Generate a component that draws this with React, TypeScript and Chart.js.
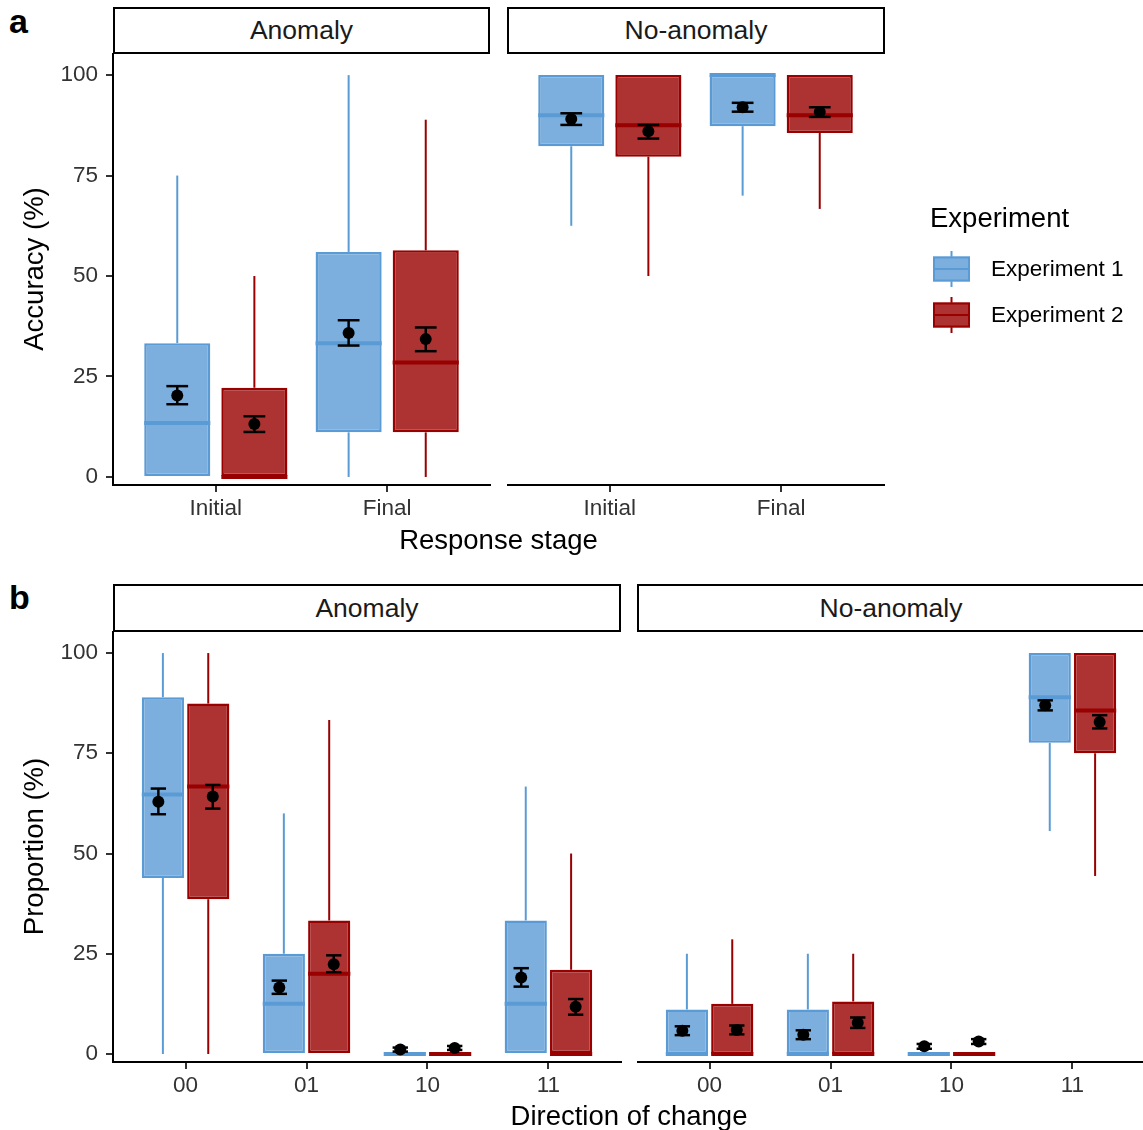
import React, { useEffect, useRef } from 'react';
import { Chart, registerables } from 'chart.js';

Chart.register(...registerables);

const FONT = "'Liberation Sans', Arial, Helvetica, sans-serif";

// ---------- data ----------
const stageLabels = ['Initial', 'Final'];
const changeLabels = ['00', '01', '10', '11'];
const facetNames = ['Anomaly', 'No-anomaly'];
const seriesNames = ['Experiment 1', 'Experiment 2'];
const yTickValues = [0, 25, 50, 75, 100];

// box rows: [whisker low, Q1, median, Q3, whisker high]
// mean rows: [mean, lower error, upper error]
const accAnomalyExp1Box = [[0, 0, 13.4, 33.3, 75], [0, 11.1, 33.3, 56, 100]];
const accAnomalyExp2Box = [[0, 0, 0, 22.2, 50], [0, 11.1, 28.5, 56.4, 88.9]];
const accAnomalyExp1Mean = [[20.3, 18.1, 22.6], [35.8, 32.7, 39.0]];
const accAnomalyExp2Mean = [[13.2, 11.2, 15.1], [34.3, 31.3, 37.2]];

const accNoAnomExp1Box = [[62.5, 82.3, 90, 100, 100], [70, 87.3, 100, 100, 100]];
const accNoAnomExp2Box = [[50, 79.7, 87.5, 100, 100], [66.7, 85.6, 90, 100, 100]];
const accNoAnomExp1Mean = [[89.1, 87.6, 90.5], [92.0, 90.9, 93.1]];
const accNoAnomExp2Mean = [[86.0, 84.2, 87.6], [90.8, 89.6, 92.0]];

const dirAnomalyExp1Box = [[0, 43.9, 64.7, 89, 100], [0, 0, 12.5, 25, 60], [0, 0, 0, 0, 0], [0, 0, 12.5, 33.3, 66.7]];
const dirAnomalyExp2Box = [[0, 38.6, 66.7, 87.4, 100], [0, 0, 20, 33.3, 83.3], [0, 0, 0, 0, 0], [0, 0, 0, 21.0, 50]];
const dirAnomalyExp1Mean = [[62.9, 59.8, 66.2], [16.6, 15.0, 18.3], [1.1, 0.6, 1.6], [19.1, 16.8, 21.4]];
const dirAnomalyExp2Mean = [[64.2, 61.2, 67.1], [22.4, 20.4, 24.6], [1.5, 1.0, 2.0], [11.8, 9.8, 13.7]];

const dirNoAnomExp1Box = [[0, 0, 0, 11.1, 25], [0, 0, 0, 11.1, 25], [0, 0, 0, 0, 0], [55.6, 77.6, 89.0, 100, 100]];
const dirNoAnomExp2Box = [[0, 0, 0, 12.5, 28.6], [0, 0, 0, 13.1, 25], [0, 0, 0, 0, 0], [44.4, 75, 85.7, 100, 100]];
const dirNoAnomExp1Mean = [[5.8, 4.7, 6.9], [4.8, 3.7, 5.9], [1.9, 1.3, 2.5], [87.0, 85.7, 88.2]];
const dirNoAnomExp2Mean = [[6.0, 4.9, 7.1], [7.8, 6.5, 9.1], [3.1, 2.5, 3.7], [82.8, 81.2, 84.5]];

// ---------- styles ----------
const FILLS = ['#7CAFDD', '#AD3333'];
const LINES = ['#5B9BD5', '#990000'];
const DODGE = [-0.225, 0.225];
const CAP_HALF = 0.0635;
const Y_MIN = -2;
const Y_MAX = 105.5;
const TICK_COLOR = '#333333';

function seg(ctx: CanvasRenderingContext2D, x1: number, y1: number, x2: number, y2: number) {
  ctx.beginPath();
  ctx.moveTo(x1, y1);
  ctx.lineTo(x2, y2);
  ctx.stroke();
}

const boxExtras = {
  id: 'boxExtras',
  afterDatasetsDraw(chart: any) {
    const ctx: CanvasRenderingContext2D = chart.ctx;
    const xs = chart.scales.x;
    const ys = chart.scales.y;
    const capHalf = Math.abs(xs.getPixelForValue(1 + CAP_HALF) - xs.getPixelForValue(1));
    ctx.save();
    ctx.lineCap = 'butt';
    chart.data.datasets.forEach((ds: any, di: number) => {
      const meta = chart.getDatasetMeta(di);
      meta.data.forEach((el: any, i: number) => {
        const { x, width } = el.getProps(['x', 'width'], true);
        const [lo, q1, med, q3, hi] = ds.box[i];
        ctx.strokeStyle = ds.borderColor;
        ctx.lineWidth = 2;
        if (hi > q3) seg(ctx, x, ys.getPixelForValue(hi), x, ys.getPixelForValue(q3));
        if (lo < q1) seg(ctx, x, ys.getPixelForValue(q1), x, ys.getPixelForValue(lo));
        ctx.lineWidth = 4;
        const ym = ys.getPixelForValue(med);
        seg(ctx, x - width / 2, ym, x + width / 2, ym);
      });
    });
    chart.data.datasets.forEach((ds: any, di: number) => {
      const meta = chart.getDatasetMeta(di);
      meta.data.forEach((_el: any, i: number) => {
        const [m, l, u] = ds.mean[i];
        const cx = xs.getPixelForValue(ds.data[i].x + DODGE[di]);
        const yl = ys.getPixelForValue(l);
        const yu = ys.getPixelForValue(u);
        ctx.strokeStyle = '#000';
        ctx.lineWidth = 2.5;
        seg(ctx, cx, yl, cx, yu);
        seg(ctx, cx - capHalf, yl, cx + capHalf, yl);
        seg(ctx, cx - capHalf, yu, cx + capHalf, yu);
        ctx.fillStyle = '#000';
        ctx.beginPath();
        ctx.arc(cx, ys.getPixelForValue(m), 6, 0, Math.PI * 2);
        ctx.fill();
      });
    });
    ctx.restore();
  },
};

// legend drawn into the padding area to the right of panel a / No-anomaly
const legendPlugin = {
  id: 'boxLegend',
  afterDraw(chart: any) {
    const opts = chart.options.plugins.boxLegend;
    if (!opts || !opts.show) return;
    const ctx: CanvasRenderingContext2D = chart.ctx;
    const ox = opts.x;
    const oy = opts.y;
    ctx.save();
    ctx.fillStyle = '#000';
    ctx.font = `27.5px ${FONT}`;
    ctx.textBaseline = 'alphabetic';
    ctx.textAlign = 'left';
    ctx.fillText('Experiment', ox, oy);
    chart.data.datasets.forEach((ds: any, di: number) => {
      const cy = oy + 42 + di * 46;
      const kx = ox + 3;
      const kw = 37;
      ctx.strokeStyle = LINES[di];
      ctx.lineWidth = 2;
      seg(ctx, kx + kw / 2, cy - 18, kx + kw / 2, cy + 18);
      ctx.fillStyle = FILLS[di];
      ctx.fillRect(kx, cy - 12.5, kw, 25);
      ctx.strokeRect(kx + 1, cy - 11.5, kw - 2, 23);
      ctx.lineWidth = 2;
      seg(ctx, kx, cy, kx + kw, cy);
      ctx.fillStyle = '#000';
      ctx.font = `22.5px ${FONT}`;
      ctx.textBaseline = 'middle';
      ctx.fillText(ds.label, ox + 61, cy + 1);
      ctx.textBaseline = 'alphabetic';
    });
    ctx.restore();
  },
};

type PanelProps = {
  left: number;
  top: number;
  width: number;
  height: number;
  labels: string[];
  boxes: number[][][];
  means: number[][][];
  showY: boolean;
  yWidth: number;
  padRight: number;
  yTitle?: string;
  catPct: number;
  barPct: number;
  legend?: { x: number; y: number };
};

function Panel(p: PanelProps) {
  const ref = useRef<HTMLCanvasElement>(null);
  useEffect(() => {
    if (!ref.current) return;
    const datasets = p.boxes.map((rows, s) => ({
      label: seriesNames[s],
      data: rows.map((r, i) => ({ x: i + 1, y: [r[1], r[3]] })),
      backgroundColor: FILLS[s],
      borderColor: LINES[s],
      borderWidth: 2.5,
      borderSkipped: false,
      categoryPercentage: p.catPct,
      barPercentage: p.barPct,
      box: rows,
      mean: p.means[s],
    }));
    const tickFont = { family: FONT, size: 22.5 };
    const chart = new Chart(ref.current, {
      type: 'bar',
      data: { datasets } as any,
      options: {
        responsive: false,
        animation: false,
        devicePixelRatio: 1,
        layout: { padding: { left: 0, top: 0, right: p.padRight, bottom: 0 } },
        plugins: {
          legend: { display: false },
          tooltip: { enabled: false },
          boxLegend: p.legend ? { show: true, x: p.legend.x, y: p.legend.y } : { show: false },
        } as any,
        scales: {
          x: {
            type: 'linear',
            min: 0.4,
            max: p.labels.length + 0.6,
            offset: false,
            afterBuildTicks: (s: any) => {
              s.ticks = p.labels.map((_l, i) => ({ value: i + 1 }));
            },
            afterFit: (s: any) => {
              s.height = 40;
              s.paddingLeft = 0;
              s.paddingRight = 0;
            },
            ticks: {
              callback: (v: any) => p.labels[Math.round(Number(v)) - 1] ?? '',
              font: tickFont,
              color: TICK_COLOR,
              padding: 3,
              autoSkip: false,
              maxRotation: 0,
              minRotation: 0,
            },
            grid: { display: true, drawOnChartArea: false, drawTicks: true, tickLength: 7, color: TICK_COLOR, lineWidth: 2, offset: false },
            border: { display: true, color: '#000', width: 2 },
          },
          y: {
            type: 'linear',
            display: p.showY,
            min: Y_MIN,
            max: Y_MAX,
            afterBuildTicks: (s: any) => {
              s.ticks = yTickValues.map((v) => ({ value: v }));
            },
            afterFit: (s: any) => {
              s.width = p.yWidth;
              s.paddingTop = 0;
              s.paddingBottom = 0;
            },
            ticks: { font: tickFont, color: TICK_COLOR, padding: 8 },
            grid: { display: true, drawOnChartArea: false, drawTicks: true, tickLength: 7, color: TICK_COLOR, lineWidth: 2 },
            border: { display: true, color: '#000', width: 2 },
            title: {
              display: !!p.yTitle,
              text: p.yTitle || '',
              color: '#000',
              font: { family: FONT, size: 27.5 },
              padding: { top: 19, bottom: 0 },
            },
          },
        },
      } as any,
      plugins: [boxExtras, legendPlugin],
    });
    return () => chart.destroy();
  }, []);
  return (
    <canvas
      ref={ref}
      width={p.width}
      height={p.height}
      style={{ position: 'absolute', left: p.left, top: p.top, width: p.width, height: p.height }}
    />
  );
}

function Strip({ left, top, width, height, text }: { left: number; top: number; width: number; height: number; text: string }) {
  return (
    <div
      style={{
        position: 'absolute',
        left,
        top,
        width,
        height,
        boxSizing: 'border-box',
        border: '2px solid #000',
        background: '#fff',
        display: 'flex',
        alignItems: 'center',
        justifyContent: 'center',
        fontSize: 26.5,
        color: '#1a1a1a',
        fontFamily: FONT,
      }}
    >
      {text}
    </div>
  );
}

function TextAt({ left, top, width, text, size, bold, align }: { left: number; top: number; width?: number; text: string; size: number; bold?: boolean; align?: 'left' | 'center' }) {
  return (
    <div
      style={{
        position: 'absolute',
        left,
        top,
        width,
        fontSize: size,
        lineHeight: 1,
        fontWeight: bold ? 'bold' : 'normal',
        textAlign: align || 'left',
        fontFamily: FONT,
        color: '#000',
        whiteSpace: 'nowrap',
      }}
    >
      {text}
    </div>
  );
}

export default function App() {
  return (
    <div
      style={{
        position: 'absolute',
        left: 0,
        top: 0,
        width: 1143,
        height: 1130,
        overflow: 'hidden',
        background: '#fff',
        fontFamily: FONT,
      }}
    >
      <TextAt left={9} top={4} text="a" size={34} bold />
      <TextAt left={9} top={580} text="b" size={34} bold />

      <Strip left={113} top={7} width={377} height={47} text={facetNames[0]} />
      <Strip left={507} top={7} width={378} height={47} text={facetNames[1]} />

      <Panel
        left={0}
        top={53}
        width={500}
        height={472}
        labels={stageLabels}
        boxes={[accAnomalyExp1Box, accAnomalyExp2Box]}
        means={[accAnomalyExp1Mean, accAnomalyExp2Mean]}
        showY
        yWidth={113}
        padRight={10}
        yTitle="Accuracy (%)"
        catPct={0.9}
        barPct={0.857}
      />
      <Panel
        left={507}
        top={53}
        width={636}
        height={472}
        labels={stageLabels}
        boxes={[accNoAnomExp1Box, accNoAnomExp2Box]}
        means={[accNoAnomExp1Mean, accNoAnomExp2Mean]}
        showY={false}
        yWidth={0}
        padRight={259}
        catPct={0.9}
        barPct={0.857}
        legend={{ x: 423, y: 174 }}
      />
      <TextAt left={113} top={526} width={771} text="Response stage" size={27.5} align="center" />

      <Strip left={113} top={584} width={508} height={48} text={facetNames[0]} />
      <Strip left={637} top={584} width={508} height={48} text={facetNames[1]} />

      <Panel
        left={0}
        top={631}
        width={631}
        height={471}
        labels={changeLabels}
        boxes={[dirAnomalyExp1Box, dirAnomalyExp2Box]}
        means={[dirAnomalyExp1Mean, dirAnomalyExp2Mean]}
        showY
        yWidth={113}
        padRight={10}
        yTitle="Proportion (%)"
        catPct={0.75}
        barPct={0.93}
      />
      <Panel
        left={637}
        top={631}
        width={508}
        height={471}
        labels={changeLabels}
        boxes={[dirNoAnomExp1Box, dirNoAnomExp2Box]}
        means={[dirNoAnomExp1Mean, dirNoAnomExp2Mean]}
        showY={false}
        yWidth={0}
        padRight={0}
        catPct={0.75}
        barPct={0.93}
      />
      <TextAt left={113} top={1102} width={1032} text="Direction of change" size={27.5} align="center" />
    </div>
  );
}
